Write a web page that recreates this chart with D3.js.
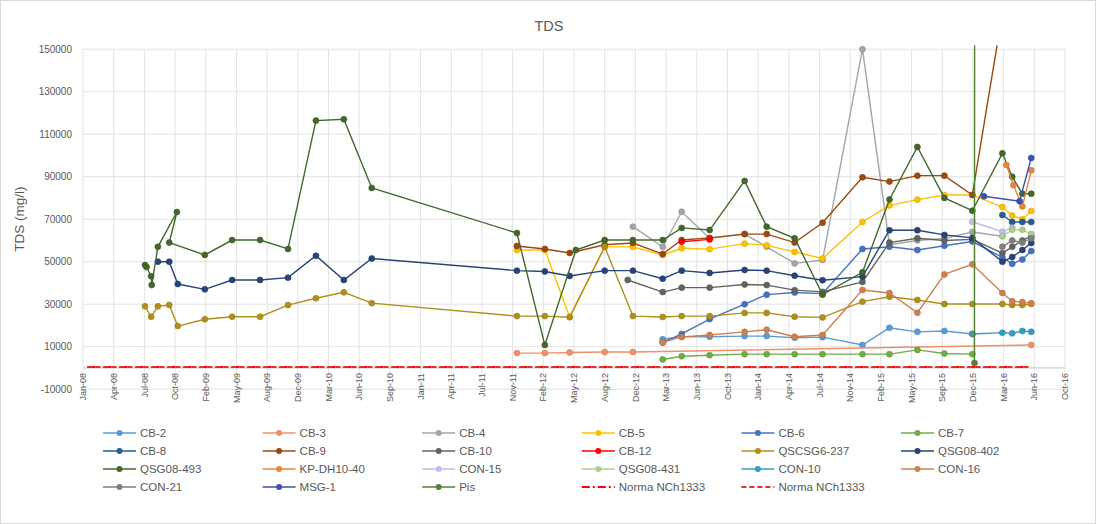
<!DOCTYPE html>
<html><head><meta charset="utf-8">
<script src="https://cdn.jsdelivr.net/npm/d3@7"></script>
<style>body{margin:0;background:#fff}svg{font-family:"Liberation Sans",Arial,sans-serif}</style>
</head><body><svg id="c" width="1096" height="524"></svg>
<script>
// ---- data (date, TDS mg/l) ----
const CB_2=[["2013-03-04",13500],["2013-05-05",14700],["2013-08-04",14700],["2013-11-26",15000],["2014-02-06",15000],["2014-05-08",14200],["2014-08-07",14500],["2014-12-15",10800],["2015-03-13",18900],["2015-06-12",17000],["2015-09-08",17400],["2015-12-08",16000]];
const CB_3=[["2011-11-15",7000],["2012-02-14",7000],["2012-05-05",7300],["2012-08-27",7500],["2012-11-27",7500],["2016-06-17",10800]];
const CB_4=[["2012-11-27",66500],["2013-03-04",57000],["2013-05-05",73500],["2013-08-04",61000],["2013-11-26",63000],["2014-02-06",57000],["2014-05-08",49200],["2014-08-07",50800],["2014-12-15",150000],["2015-03-13",58000],["2015-06-12",60000],["2015-09-08",61000],["2015-12-08",64000],["2016-03-15",62000]];
const CB_5=[["2011-11-15",55500],["2012-02-14",55500],["2012-05-05",24000],["2012-08-27",57000],["2012-11-27",57000],["2013-03-04",53200],["2013-05-05",56300],["2013-08-04",55900],["2013-11-26",58500],["2014-02-06",57700],["2014-05-08",54600],["2014-08-07",51500],["2014-12-15",68700],["2015-03-13",76500],["2015-06-12",79200],["2015-09-08",81400],["2015-12-08",81400],["2016-03-15",75700],["2016-04-16",71700],["2016-05-19",70000],["2016-06-17",73900]];
const CB_6=[["2013-03-04",12000],["2013-05-05",16000],["2013-08-04",23000],["2013-11-26",30000],["2014-02-06",34500],["2014-05-08",35500],["2014-08-07",35000],["2014-12-15",56000],["2015-03-13",57000],["2015-06-12",55500],["2015-09-08",57500],["2015-12-08",59500],["2016-03-15",52000],["2016-04-16",49000],["2016-05-19",51000],["2016-06-17",55000]];
const CB_7=[["2013-03-04",4000],["2013-05-05",5500],["2013-08-04",6000],["2013-11-26",6500],["2014-02-06",6500],["2014-05-08",6500],["2014-08-07",6500],["2014-12-15",6500],["2015-03-13",6500],["2015-06-12",8500],["2015-09-08",6800],["2015-12-08",6500]];
const CB_8=[["2016-03-15",72000],["2016-04-16",68700],["2016-05-19",68700],["2016-06-17",68700]];
const CB_9=[["2011-11-15",57400],["2012-02-14",56000],["2012-05-05",54100],["2012-08-27",58000],["2012-11-27",58800],["2013-03-04",53600],["2013-05-05",60200],["2013-08-04",61200],["2013-11-26",63000],["2014-02-06",63000],["2014-05-08",59000],["2014-08-07",68300],["2014-12-15",89700],["2015-03-13",87700],["2015-06-12",90500],["2015-09-08",90500],["2015-12-08",81400],["2016-03-15",167000]];
const CB_10=[["2012-11-10",41400],["2013-03-04",35700],["2013-05-05",37800],["2013-08-04",37800],["2013-11-26",39300],["2014-02-06",39000],["2014-05-08",36600],["2014-08-07",35800],["2014-12-15",40500],["2015-03-13",59000],["2015-06-12",61000],["2015-09-08",60000],["2015-12-08",60500],["2016-03-15",54000],["2016-04-16",57000],["2016-05-19",60000],["2016-06-17",62000]];
const CB_12=[["2013-05-05",59400],["2013-08-04",60500]];
const QSCSG6_237=[["2008-07-21",29000],["2008-08-10",24100],["2008-09-01",29000],["2008-10-08",29600],["2008-11-05",19700],["2009-02-01",22900],["2009-05-01",24100],["2009-07-31",24100],["2009-10-30",29600],["2010-01-29",32800],["2010-04-30",35600],["2010-07-30",30500],["2011-11-15",24400],["2012-02-14",24400],["2012-05-05",23900],["2012-08-27",57000],["2012-11-27",24400],["2013-03-04",24000],["2013-05-05",24400],["2013-08-04",24400],["2013-11-26",25900],["2014-02-06",25900],["2014-05-08",24100],["2014-08-07",23800],["2014-12-15",31200],["2015-03-13",33500],["2015-06-12",32000],["2015-09-08",30100],["2015-12-08",30100],["2016-03-15",30100],["2016-04-16",29600],["2016-05-19",29600],["2016-06-17",30100]];
const QSG08_402=[["2008-09-01",50000],["2008-10-08",50000],["2008-11-05",39500],["2009-02-01",37000],["2009-05-01",41400],["2009-07-31",41400],["2009-10-30",42500],["2010-01-29",52800],["2010-04-30",41400],["2010-07-30",51500],["2011-11-15",45800],["2012-02-14",45400],["2012-05-05",43300],["2012-08-27",45800],["2012-11-27",45800],["2013-03-04",42000],["2013-05-05",45800],["2013-08-04",44700],["2013-11-26",46100],["2014-02-06",45800],["2014-05-08",43400],["2014-08-07",41300],["2014-12-15",43000],["2015-03-13",64800],["2015-06-12",64800],["2015-09-08",62600],["2015-12-08",61200],["2016-03-15",50000],["2016-04-16",52200],["2016-05-19",55500],["2016-06-17",58800]];
const QSG08_493=[["2008-07-21",48400],["2008-07-26",47500],["2008-08-10",43200],["2008-08-12",39000],["2008-09-01",57000],["2008-11-02",73400],["2008-10-08",59000],["2009-02-01",53200],["2009-05-01",60200],["2009-07-31",60200],["2009-10-30",56000],["2010-01-29",116400],["2010-04-30",117000],["2010-07-30",84700],["2011-11-15",63500],["2012-02-14",10800],["2012-05-25",55500],["2012-08-27",60200],["2012-11-27",60200],["2013-03-04",60200],["2013-05-05",65900],["2013-08-04",64900],["2013-11-26",88000],["2014-02-06",66500],["2014-05-08",61000],["2014-08-07",34500],["2014-12-15",45000],["2015-03-13",79300],["2015-06-12",104000],["2015-09-08",80000],["2015-12-08",74000],["2016-03-15",101000],["2016-04-16",90000],["2016-05-19",82000],["2016-06-17",82000]];
const KP_DH10_40=[["2016-03-28",95500],["2016-04-20",86000],["2016-05-19",76000],["2016-06-17",93000]];
const CON_15=[["2015-12-08",68800],["2016-03-15",64100],["2016-04-16",66000]];
const QSG08_431=[["2016-03-15",62000],["2016-04-16",65000],["2016-05-19",65000],["2016-06-17",63000]];
const CON_10=[["2015-12-08",16000],["2016-03-15",16600],["2016-04-16",16300],["2016-05-19",17400],["2016-06-17",17000]];
const CON_16=[["2013-03-04",12000],["2013-05-05",14600],["2013-08-04",15500],["2013-11-26",17000],["2014-02-06",18000],["2014-05-08",14700],["2014-08-07",15500],["2014-12-15",36700],["2015-03-13",35300],["2015-06-12",26000],["2015-09-08",44000],["2015-12-08",48800],["2016-03-15",35300],["2016-04-16",31400],["2016-05-19",31000],["2016-06-17",30500]];
const CON_21=[["2016-03-15",57000],["2016-04-16",60000],["2016-05-19",59000],["2016-06-17",61000]];
const MSG_1=[["2016-01-15",80800],["2016-05-10",78500],["2016-06-17",98800]];
const PIS=[["2015-12-15",2300],["2015-12-17",600000]];
const NORMA_1=[["2008-01-15",500],["2016-06-17",500]];
const NORMA_2=[["2008-01-15",500],["2016-06-17",500]];

const seriesNames=["CB-2","CB-3","CB-4","CB-5","CB-6","CB-7","CB-8","CB-9","CB-10","CB-12","QSCSG6-237","QSG08-402","QSG08-493","KP-DH10-40","CON-15","QSG08-431","CON-10","CON-16","CON-21","MSG-1","Pis","Norma NCh1333","Norma NCh1333"];
const seriesData=[CB_2,CB_3,CB_4,CB_5,CB_6,CB_7,CB_8,CB_9,CB_10,CB_12,QSCSG6_237,QSG08_402,QSG08_493,KP_DH10_40,CON_15,QSG08_431,CON_10,CON_16,CON_21,MSG_1,PIS,NORMA_1,NORMA_2];
const seriesColors=["#5B9BD5","#F0906A","#A5A5A5","#FFC000","#4472C4","#70AD47","#255E91","#9E480E","#636363","#FF0000","#B0901A","#264478","#43682B","#E8863F","#C9B8E8","#A9D18E","#3A9BC0","#D08050","#7F7F7F","#3F51B5","#548235","#FF0000","#E03030"];
const yTickValues=[-10000,10000,30000,50000,70000,90000,110000,130000,150000];
const titleText="TDS", yTitleText="TDS (mg/l)";

// ---- drawing ----
const svg=d3.select("#c");
const parse=d3.timeParse("%Y-%m-%d");
const L=83,R=1065,T=49.2,B=389.2;
const start=new Date(2008,0,1);
const x=d3.scaleTime().domain([start,d3.timeDay.offset(start,3200)]).range([L,R]);
const y=d3.scaleLinear().domain([-10000,150000]).range([B,T]);
const xTicks=d3.range(33).map(i=>d3.timeDay.offset(start,i*100));
const fmt=d3.timeFormat("%b-%y");

svg.append("rect").attr("x",0.5).attr("y",0.5).attr("width",1095).attr("height",523).attr("fill","#fff").attr("stroke","#D9D9D9");

const grid=svg.append("g");
grid.selectAll(".h").data(yTickValues).join("line").attr("x1",L).attr("x2",R).attr("y1",d=>y(d)).attr("y2",d=>y(d)).attr("stroke","#E3E3E3");
grid.selectAll(".v").data(xTicks).join("line").attr("x1",d=>x(d)).attr("x2",d=>x(d)).attr("y1",T).attr("y2",B).attr("stroke","#E3E3E3");

svg.append("g").selectAll("text").data(yTickValues).join("text")
 .attr("x",L-11).attr("y",d=>y(d)).attr("dy","0.35em").attr("text-anchor","end")
 .attr("font-size",10).attr("fill","#595959").text(d=>d);

svg.append("line").attr("x1",L).attr("x2",R).attr("y1",y(0)).attr("y2",y(0)).attr("stroke","#BFBFBF");
svg.append("g").selectAll("text").data(xTicks).join("text")
 .attr("transform",d=>`translate(${x(d)},${y(0)+5}) rotate(-90)`)
 .attr("dy","0.35em").attr("text-anchor","end").attr("font-size",9).attr("fill","#595959").text(d=>fmt(d));

svg.append("text").attr("x",549).attr("y",31).attr("text-anchor","middle").attr("font-size",14.5).attr("fill","#595959").text(titleText);
svg.append("text").attr("transform",`translate(24,${(T+B)/2}) rotate(-90)`).attr("text-anchor","middle").attr("font-size",13.5).attr("fill","#595959").text(yTitleText);

svg.append("clipPath").attr("id","pc").append("rect").attr("x",L).attr("y",T-4).attr("width",R-L).attr("height",B-T+4);
const plot=svg.append("g").attr("clip-path","url(#pc)");
const line=d3.line().x(d=>x(parse(d[0]))).y(d=>y(d[1]));
const dash=i=>i===21?"8,3,2,3":(i===22?"5,3":null);
seriesData.forEach((s,i)=>{
  const g=plot.append("g");
  g.append("path").datum(s).attr("d",line).attr("fill","none").attr("stroke",seriesColors[i])
   .attr("stroke-width",i>=21?2:1.4).attr("stroke-dasharray",dash(i));
  if(i<21){
    g.selectAll("circle").data(s).join("circle").attr("cx",d=>x(parse(d[0]))).attr("cy",d=>y(d[1])).attr("r",3)
     .attr("fill",seriesColors[i]).attr("stroke",d3.color(seriesColors[i]).darker(0.4)).attr("stroke-width",0.6);
  }
});

// legend
const lg=svg.append("g");
seriesNames.forEach((n,i)=>{
  const c=i%6,r=Math.floor(i/6);
  const lx=103+c*159.6, ly=433+r*18;
  const g=lg.append("g").attr("transform",`translate(${lx},${ly})`);
  g.append("line").attr("x1",0).attr("x2",33).attr("stroke",seriesColors[i]).attr("stroke-width",i>=21?2:1.4).attr("stroke-dasharray",dash(i));
  if(i<21) g.append("circle").attr("cx",16.5).attr("r",3).attr("fill",seriesColors[i]);
  g.append("text").attr("x",37).attr("dy","0.35em").attr("font-size",11.5).attr("fill","#595959").text(n);
});
</script></body></html>
